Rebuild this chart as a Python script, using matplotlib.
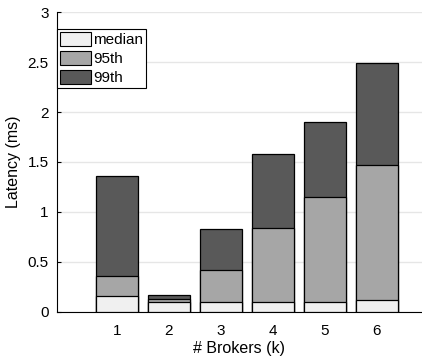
import numpy as np
import matplotlib.pyplot as plt
from matplotlib.patches import Patch

plt.rcParams["font.family"] = ["Liberation Sans", "DejaVu Sans"]

brokers = [1, 2, 3, 4, 5, 6]
median = [0.16, 0.095, 0.095, 0.095, 0.10, 0.12]
p95 = [0.36, 0.13, 0.42, 0.84, 1.15, 1.47]
p99 = [1.36, 0.17, 0.83, 1.58, 1.90, 2.49]

colors = {"median": "#f0f0f0", "95th": "#a6a6a6", "99th": "#595959"}

fig = plt.figure(figsize=(4.22, 3.56), dpi=100)
ax = fig.add_axes([0.135, 0.124, 0.865, 0.842])

x = np.array(brokers)
# overlapping bars, tallest first so the smaller percentiles sit in front
for vals, key in [(p99, "99th"), (p95, "95th"), (median, "median")]:
    ax.bar(x, vals, width=0.8, color=colors[key], edgecolor="black",
           linewidth=0.9, zorder=3)

ax.set_xlim(-0.15, 6.87)
ax.set_ylim(0, 3)
ax.set_xticks(brokers)
ax.set_yticks([0, 0.5, 1, 1.5, 2, 2.5, 3])
ax.set_yticklabels(["0", "0.5", "1", "1.5", "2", "2.5", "3"])
ax.yaxis.grid(True, color="#e6e6e6", linewidth=1, zorder=0)
ax.set_axisbelow(True)
for side in ["top", "right"]:
    ax.spines[side].set_visible(False)
for side in ["left", "bottom"]:
    ax.spines[side].set_linewidth(0.8)
ax.tick_params(axis="y", direction="in", length=3, labelsize=11, pad=6)
ax.tick_params(axis="x", length=0, labelsize=11, pad=9)

ax.set_xlabel("# Brokers (k)", fontsize=11.5, labelpad=2)
ax.set_ylabel("Latency (ms)", fontsize=11.5, labelpad=5)

handles = [Patch(facecolor=colors[k], edgecolor="black", linewidth=0.8, label=k)
           for k in ["median", "95th", "99th"]]
leg = ax.legend(handles=handles, loc="upper left", bbox_to_anchor=(0.0, 0.943),
                fontsize=11, frameon=True, fancybox=False, edgecolor="black",
                framealpha=1, borderpad=0.2, handlelength=2.0, handleheight=1.0,
                handletextpad=0.15, labelspacing=0.25, borderaxespad=0)
leg.get_frame().set_linewidth(0.8)

fig.savefig("out.png", dpi=100)
